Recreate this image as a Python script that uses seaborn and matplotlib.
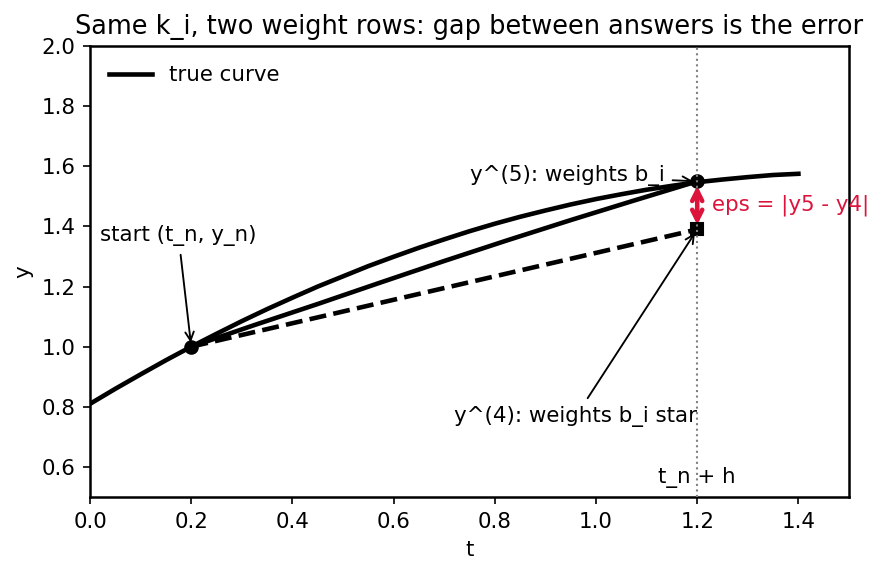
import matplotlib
matplotlib.use("Agg")
import matplotlib.pyplot as plt
import seaborn as sns
import pandas as pd

# true solution curve
t_true = [0.0, 0.05, 0.1, 0.15, 0.2, 0.25, 0.3, 0.35, 0.4, 0.45, 0.5, 0.55, 0.6, 0.65, 0.7,
          0.75, 0.8, 0.85, 0.9, 0.95, 1.0, 1.05, 1.1, 1.15, 1.2, 1.25, 1.3, 1.35, 1.4]
y_true = [0.810, 0.860, 0.908, 0.955, 1.000, 1.043, 1.085, 1.125, 1.163, 1.200, 1.234, 1.268,
          1.299, 1.329, 1.357, 1.384, 1.409, 1.432, 1.453, 1.473, 1.491, 1.507, 1.522, 1.535,
          1.547, 1.556, 1.564, 1.571, 1.575]

# 5th-order step path
t_y5 = [0.2, 0.325, 0.45, 0.575, 0.7, 0.825, 0.95, 1.075, 1.2]
y_y5 = [1.0, 1.072, 1.142, 1.214, 1.285, 1.354, 1.421, 1.486, 1.55]

# 4th-order step
t_y4 = [0.2, 1.2]
y_y4 = [1.0, 1.39]

t_n, y_n = 0.2, 1.0
t_end = 1.2
y5_end, y4_end = 1.55, 1.39

crimson = "#dc143c"
fs = 10.25
lw = 2.2

fig = plt.figure(figsize=(8.83 / 1.5, 5.73 / 1.5), dpi=150)
ax = fig.add_axes([0.102, 0.1326, 0.8595, 0.7871])

df_true = pd.DataFrame({"t": t_true, "y": y_true})
df_y5 = pd.DataFrame({"t": t_y5, "y": y_y5})
df_y4 = pd.DataFrame({"t": t_y4, "y": y_y4})

sns.lineplot(data=df_true, x="t", y="y", ax=ax, color="black", lw=lw, label="true curve", sort=False)
sns.lineplot(data=df_y5, x="t", y="y", ax=ax, color="black", lw=lw, sort=False, legend=False)
sns.lineplot(data=df_y4, x="t", y="y", ax=ax, color="black", lw=lw, linestyle="--", sort=False, legend=False)

ax.plot([t_n], [y_n], "o", color="black", ms=6, zorder=5)
ax.plot([t_end], [y5_end], "o", color="black", ms=6, zorder=5)
ax.plot([t_end], [y4_end], "s", color="black", ms=6, zorder=5)

ax.axvline(t_end, color="gray", lw=1, ls=":", zorder=6)

ax.annotate("", xy=(t_end, y5_end - 0.015), xytext=(t_end, y4_end + 0.015),
            arrowprops=dict(arrowstyle="<->", color=crimson, lw=2.2, mutation_scale=12,
                            shrinkA=0, shrinkB=0), zorder=7)
ax.text(1.23, 1.47, "eps = |y5 - y4|", color=crimson, fontsize=fs, va="center", ha="left")

ax.annotate("start (t_n, y_n)", xy=(t_n, y_n), xytext=(0.02, 1.35), fontsize=fs,
            arrowprops=dict(arrowstyle="->", color="black", lw=0.9))
ax.annotate("y^(5): weights b_i", xy=(t_end, y5_end), xytext=(0.75, 1.55), fontsize=fs,
            arrowprops=dict(arrowstyle="->", color="black", lw=0.9))
ax.annotate("y^(4): weights b_i star", xy=(t_end, y4_end), xytext=(0.72, 0.75), fontsize=fs,
            arrowprops=dict(arrowstyle="->", color="black", lw=0.9))

ax.text(t_end, 0.53, "t_n + h", fontsize=fs, ha="center", va="bottom")

ax.set_xlim(0, 1.5)
ax.set_ylim(0.5, 2.0)
ax.set_xlabel("t", fontsize=fs)
ax.set_ylabel("y", fontsize=fs)
ax.set_title("Same k_i, two weight rows: gap between answers is the error", fontsize=12.3)
for s in ax.spines.values():
    s.set_linewidth(1.2)
ax.tick_params(labelsize=fs)
ax.legend(loc="upper left", frameon=False, fontsize=fs)

fig.savefig("out.png", dpi=150)
